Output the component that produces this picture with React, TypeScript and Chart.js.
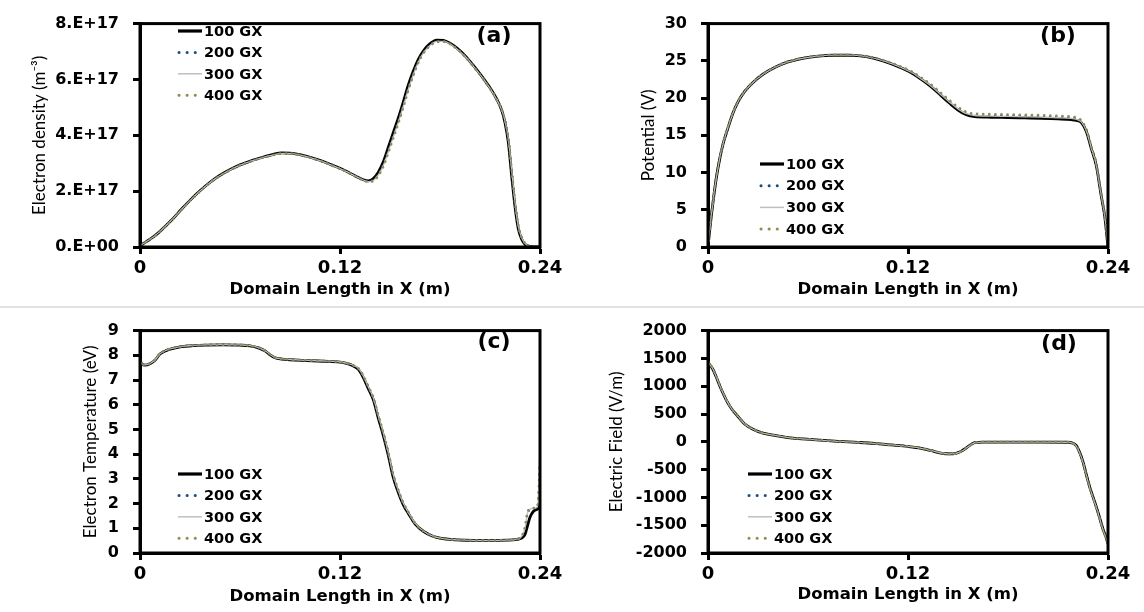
import React, { useEffect, useRef } from 'react';
import { Chart, registerables } from 'chart.js';

Chart.register(...registerables);

// ---------- shared labels ----------
const seriesNames = ['100 GX', '200 GX', '300 GX', '400 GX'];
const xTickLabels = ['0', '0.12', '0.24'];
const xAxisTitle = 'Domain Length in X (m)';

// ---------- (a) electron density, units of 1e17 m^-3 ----------
const densityX = [0, 0.004, 0.008, 0.012, 0.016, 0.02, 0.025, 0.03, 0.035, 0.04, 0.045, 0.05, 0.055, 0.06, 0.065, 0.07, 0.075, 0.08, 0.085, 0.09, 0.095, 0.1, 0.105, 0.11, 0.115, 0.12, 0.125, 0.13, 0.134, 0.137, 0.14, 0.143, 0.146, 0.149, 0.152, 0.155, 0.158, 0.161, 0.164, 0.167, 0.17, 0.174, 0.178, 0.182, 0.186, 0.19, 0.195, 0.2, 0.205, 0.21, 0.214, 0.217, 0.219, 0.221, 0.223, 0.225, 0.227, 0.229, 0.231, 0.233, 0.236, 0.24];
const density100 = [0.05, 0.2, 0.36, 0.56, 0.79, 1.03, 1.36, 1.67, 1.96, 2.22, 2.45, 2.64, 2.8, 2.94, 3.05, 3.15, 3.24, 3.32, 3.37, 3.36, 3.32, 3.25, 3.16, 3.06, 2.94, 2.82, 2.68, 2.52, 2.41, 2.37, 2.45, 2.68, 3.05, 3.57, 4.1, 4.62, 5.2, 5.8, 6.3, 6.72, 7.02, 7.28, 7.41, 7.4, 7.3, 7.13, 6.85, 6.5, 6.12, 5.7, 5.3, 4.9, 4.45, 3.75, 2.55, 1.45, 0.65, 0.28, 0.1, 0.03, 0, 0];
const density200 = [0.05, 0.2, 0.36, 0.56, 0.79, 1.03, 1.35, 1.66, 1.95, 2.21, 2.44, 2.63, 2.79, 2.93, 3.04, 3.14, 3.23, 3.3, 3.35, 3.35, 3.31, 3.24, 3.15, 3.05, 2.93, 2.81, 2.67, 2.51, 2.4, 2.35, 2.4, 2.6, 2.95, 3.45, 3.98, 4.5, 5.08, 5.68, 6.2, 6.64, 6.96, 7.23, 7.37, 7.37, 7.28, 7.11, 6.83, 6.48, 6.1, 5.68, 5.28, 4.9, 4.5, 3.85, 2.7, 1.55, 0.72, 0.32, 0.12, 0.04, 0, 0];
const density300 = [0.05, 0.2, 0.36, 0.56, 0.79, 1.03, 1.35, 1.66, 1.95, 2.21, 2.44, 2.63, 2.79, 2.93, 3.04, 3.14, 3.23, 3.3, 3.35, 3.35, 3.31, 3.24, 3.15, 3.05, 2.93, 2.81, 2.67, 2.51, 2.4, 2.34, 2.38, 2.58, 2.92, 3.42, 3.95, 4.47, 5.05, 5.65, 6.18, 6.62, 6.95, 7.22, 7.36, 7.36, 7.28, 7.1, 6.83, 6.48, 6.1, 5.68, 5.28, 4.91, 4.52, 3.88, 2.75, 1.6, 0.75, 0.33, 0.13, 0.04, 0, 0];
const density400 = [0.05, 0.2, 0.35, 0.55, 0.78, 1.02, 1.34, 1.65, 1.94, 2.2, 2.43, 2.62, 2.78, 2.92, 3.03, 3.13, 3.22, 3.29, 3.34, 3.34, 3.3, 3.23, 3.14, 3.04, 2.92, 2.8, 2.66, 2.5, 2.39, 2.33, 2.36, 2.55, 2.88, 3.38, 3.9, 4.42, 5.0, 5.6, 6.14, 6.6, 6.93, 7.2, 7.34, 7.35, 7.27, 7.1, 6.82, 6.47, 6.09, 5.67, 5.28, 4.92, 4.55, 3.92, 2.8, 1.65, 0.78, 0.35, 0.14, 0.05, 0.01, 0];
const densityTickLabels = ['0.E+00', '2.E+17', '4.E+17', '6.E+17', '8.E+17'];

// ---------- (b) potential, V ----------
const potentialX = [0, 0.001, 0.002, 0.003, 0.005, 0.007, 0.009, 0.012, 0.015, 0.018, 0.022, 0.027, 0.033, 0.04, 0.048, 0.056, 0.065, 0.075, 0.085, 0.095, 0.105, 0.115, 0.122, 0.128, 0.134, 0.14, 0.145, 0.15, 0.155, 0.16, 0.17, 0.18, 0.19, 0.2, 0.21, 0.218, 0.221, 0.224, 0.227, 0.23, 0.233, 0.236, 0.238, 0.24];
const potential100 = [0, 2.2, 4.2, 6.0, 9.3, 11.8, 13.8, 16.0, 18.0, 19.5, 20.9, 22.1, 23.2, 24.1, 24.85, 25.3, 25.6, 25.75, 25.75, 25.55, 25.0, 24.15, 23.4, 22.5, 21.5, 20.3, 19.3, 18.4, 17.75, 17.5, 17.42, 17.38, 17.33, 17.28, 17.2, 17.1, 17.0, 16.7, 15.5, 13.2, 10.9, 6.8, 4.2, 0];
const potential200 = [0, 2.25, 4.25, 6.05, 9.35, 11.85, 13.85, 16.05, 18.0, 19.5, 20.9, 22.1, 23.2, 24.1, 24.87, 25.32, 25.62, 25.77, 25.77, 25.58, 25.05, 24.22, 23.5, 22.62, 21.65, 20.5, 19.52, 18.62, 17.98, 17.75, 17.68, 17.63, 17.58, 17.53, 17.45, 17.35, 17.25, 16.9, 15.7, 13.4, 11.1, 7.0, 4.4, 0];
const potential300 = [0, 2.25, 4.25, 6.05, 9.35, 11.85, 13.85, 16.05, 18.0, 19.5, 20.9, 22.1, 23.2, 24.1, 24.86, 25.31, 25.61, 25.76, 25.76, 25.57, 25.03, 24.2, 23.46, 22.58, 21.6, 20.42, 19.45, 18.55, 17.9, 17.66, 17.58, 17.53, 17.48, 17.43, 17.36, 17.26, 17.15, 16.8, 15.6, 13.3, 11.0, 6.9, 4.3, 0];
const potential400 = [0, 2.3, 4.3, 6.1, 9.4, 11.9, 13.9, 16.1, 18.05, 19.55, 20.95, 22.15, 23.25, 24.15, 24.9, 25.35, 25.65, 25.8, 25.8, 25.62, 25.1, 24.3, 23.6, 22.75, 21.8, 20.65, 19.7, 18.8, 18.15, 17.9, 17.85, 17.8, 17.75, 17.7, 17.62, 17.52, 17.4, 17.0, 15.8, 13.5, 11.2, 7.1, 4.5, 0];
const potentialTickLabels = ['0', '5', '10', '15', '20', '25', '30'];

// ---------- (c) electron temperature, eV ----------
const tempX = [0, 0.001, 0.003, 0.006, 0.009, 0.012, 0.016, 0.02, 0.025, 0.032, 0.04, 0.05, 0.06, 0.066, 0.071, 0.075, 0.078, 0.081, 0.085, 0.09, 0.1, 0.11, 0.12, 0.125, 0.128, 0.131, 0.134, 0.137, 0.14, 0.143, 0.146, 0.149, 0.152, 0.155, 0.158, 0.161, 0.165, 0.17, 0.175, 0.18, 0.19, 0.2, 0.21, 0.22, 0.226, 0.229, 0.231, 0.2325, 0.234, 0.236, 0.238, 0.239, 0.2395, 0.24];
const temp100 = [7.8, 7.65, 7.6, 7.66, 7.8, 8.05, 8.2, 8.28, 8.35, 8.39, 8.41, 8.42, 8.41, 8.38, 8.3, 8.18, 8.02, 7.9, 7.85, 7.82, 7.79, 7.76, 7.72, 7.65, 7.57, 7.43, 7.1, 6.65, 6.2, 5.45, 4.75, 3.95, 3.05, 2.45, 1.95, 1.6, 1.18, 0.88, 0.7, 0.6, 0.53, 0.51, 0.51, 0.52, 0.55, 0.6, 0.75, 1.1, 1.45, 1.68, 1.76, 1.8, 1.85, 2.0];
const temp200 = [7.81, 7.66, 7.61, 7.67, 7.81, 8.06, 8.21, 8.29, 8.36, 8.4, 8.42, 8.43, 8.42, 8.39, 8.31, 8.19, 8.04, 7.91, 7.86, 7.83, 7.8, 7.77, 7.73, 7.66, 7.58, 7.46, 7.14, 6.7, 6.25, 5.52, 4.82, 4.02, 3.12, 2.5, 1.99, 1.63, 1.2, 0.89, 0.7, 0.6, 0.53, 0.51, 0.51, 0.52, 0.56, 0.66, 1.0, 1.6, 1.76, 1.8, 1.83, 2.1, 2.8, 3.6];
const temp300 = [7.81, 7.66, 7.61, 7.67, 7.81, 8.06, 8.21, 8.29, 8.36, 8.4, 8.42, 8.43, 8.42, 8.39, 8.31, 8.19, 8.04, 7.91, 7.86, 7.83, 7.8, 7.77, 7.73, 7.66, 7.59, 7.47, 7.16, 6.72, 6.27, 5.55, 4.85, 4.05, 3.15, 2.52, 2.01, 1.64, 1.21, 0.89, 0.7, 0.6, 0.53, 0.51, 0.51, 0.52, 0.56, 0.67, 1.02, 1.62, 1.77, 1.81, 1.84, 2.3, 3.3, 4.5];
const temp400 = [7.82, 7.67, 7.62, 7.68, 7.82, 8.07, 8.22, 8.3, 8.36, 8.4, 8.42, 8.43, 8.42, 8.39, 8.32, 8.2, 8.05, 7.92, 7.86, 7.83, 7.8, 7.77, 7.73, 7.67, 7.6, 7.48, 7.18, 6.75, 6.3, 5.58, 4.88, 4.08, 3.18, 2.55, 2.03, 1.66, 1.22, 0.9, 0.71, 0.61, 0.53, 0.51, 0.51, 0.52, 0.56, 0.68, 1.05, 1.65, 1.78, 1.82, 1.85, 2.2, 3.0, 3.8];
const tempTickLabels = ['0', '1', '2', '3', '4', '5', '6', '7', '8', '9'];

// ---------- (d) electric field, V/m ----------
const fieldX = [0, 0.001, 0.003, 0.005, 0.008, 0.011, 0.014, 0.018, 0.022, 0.027, 0.033, 0.04, 0.048, 0.057, 0.067, 0.078, 0.09, 0.1, 0.11, 0.12, 0.128, 0.134, 0.139, 0.143, 0.147, 0.151, 0.154, 0.157, 0.16, 0.165, 0.18, 0.2, 0.215, 0.219, 0.221, 0.223, 0.225, 0.227, 0.229, 0.231, 0.233, 0.235, 0.237, 0.239, 0.24];
const field100 = [1420, 1390, 1300, 1160, 940, 750, 600, 455, 320, 225, 155, 115, 75, 52, 30, 8, -11, -30, -57, -85, -118, -160, -198, -215, -217, -183, -130, -65, -15, -5, -5, -5, -8, -25, -70, -190, -360, -590, -810, -990, -1170, -1370, -1570, -1730, -1830];
const field200 = [1430, 1395, 1305, 1165, 945, 755, 602, 457, 322, 226, 156, 116, 76, 52, 30, 8, -10, -30, -57, -85, -117, -159, -197, -215, -218, -185, -132, -68, -16, -5, -5, -5, -8, -26, -74, -195, -368, -598, -818, -998, -1178, -1378, -1580, -1740, -1840];
const field300 = [1430, 1394, 1304, 1164, 944, 754, 602, 457, 322, 226, 156, 116, 76, 52, 30, 8, -10, -30, -57, -85, -117, -159, -197, -215, -218, -185, -133, -69, -17, -6, -5, -5, -8, -27, -76, -197, -370, -600, -820, -1000, -1180, -1380, -1582, -1742, -1842];
const field400 = [1440, 1400, 1310, 1170, 950, 760, 605, 460, 325, 228, 158, 117, 77, 53, 31, 9, -10, -29, -56, -84, -116, -158, -196, -214, -218, -186, -135, -70, -18, -6, -6, -6, -9, -28, -78, -200, -375, -605, -825, -1005, -1185, -1385, -1590, -1750, -1850];
const fieldTickLabels = ['-2000', '-1500', '-1000', '-500', '0', '500', '1000', '1500', '2000'];

// ---------- styles ----------
const seriesStyles = [
  { color: '#000000', width: 2.8, legendWidth: 3.2, dash: [] as number[], cap: 'butt' as CanvasLineCap },
  { color: '#1F4E79', width: 2.5, legendWidth: 3, dash: [0.1, 6], cap: 'round' as CanvasLineCap },
  { color: '#BFBFBF', width: 1.3, legendWidth: 1.5, dash: [] as number[], cap: 'butt' as CanvasLineCap },
  { color: '#948A54', width: 2.5, legendWidth: 3, dash: [0.1, 6], cap: 'round' as CanvasLineCap },
];

const TICK_FONT_Y = { family: '"DejaVu Sans", sans-serif', size: 16, weight: 'bold' as const };
const TICK_FONT_X = { family: '"DejaVu Sans", sans-serif', size: 18, weight: 'bold' as const };
const X_TITLE_FONT = { family: '"DejaVu Sans", sans-serif', size: 16.5, weight: 'bold' as const, lineHeight: 1.2 };
const Y_TITLE_FONT = { family: 'Lato, "Open Sans", sans-serif', size: 17, weight: 'normal' as const, lineHeight: 1.2 };

type PanelCfg = {
  key: string;
  box: { left: number; top: number; w: number; h: number };
  area: { left: number; top: number; right: number; bottom: number };
  yTitleX: number;
  xTitleY: number;
  legend: { x: number; y: number; dy: number };
  tag: { x: number; y: number; text: string };
  yTitle: string;
  yMin: number;
  yMax: number;
  yStep: number;
  yLabels: string[];
  xs: number[];
  series: number[][];
};

const panels: PanelCfg[] = [
  {
    key: 'a',
    box: { left: 0, top: 0, w: 572, h: 305 },
    area: { left: 140, top: 15, right: 540, bottom: 247 },
    yTitleX: 40, xTitleY: 290,
    legend: { x: 178, y: 31, dy: 21.4 },
    tag: { x: 494, y: 36, text: '(a)' },
    yTitle: 'Electron density (m\u207B\u00B3)',
    yMin: 0, yMax: 8, yStep: 2, yLabels: densityTickLabels,
    xs: densityX, series: [density100, density200, density300, density400],
  },
  {
    key: 'b',
    box: { left: 572, top: 0, w: 572, h: 305 },
    area: { left: 136, top: 14, right: 536, bottom: 247 },
    yTitleX: 77, xTitleY: 290,
    legend: { x: 188, y: 164, dy: 21.7 },
    tag: { x: 486, y: 36, text: '(b)' },
    yTitle: 'Potential (V)',
    yMin: 0, yMax: 30, yStep: 5, yLabels: potentialTickLabels,
    xs: potentialX, series: [potential100, potential200, potential300, potential400],
  },
  {
    key: 'c',
    box: { left: 0, top: 307, w: 572, h: 305 },
    area: { left: 140, top: 14, right: 540, bottom: 246 },
    yTitleX: 91, xTitleY: 290,
    legend: { x: 178, y: 167, dy: 21.4 },
    tag: { x: 494, y: 35, text: '(c)' },
    yTitle: 'Electron Temperature (eV)',
    yMin: 0, yMax: 9, yStep: 1, yLabels: tempTickLabels,
    xs: tempX, series: [temp100, temp200, temp300, temp400],
  },
  {
    key: 'd',
    box: { left: 572, top: 307, w: 572, h: 305 },
    area: { left: 136, top: 14, right: 536, bottom: 246 },
    yTitleX: 45, xTitleY: 288,
    legend: { x: 176, y: 167, dy: 21.4 },
    tag: { x: 487, y: 37, text: '(d)' },
    yTitle: 'Electric Field (V/m)',
    yMin: -2000, yMax: 2000, yStep: 500, yLabels: fieldTickLabels,
    xs: fieldX, series: [field100, field200, field300, field400],
  },
];

function Panel({ cfg }: { cfg: PanelCfg }) {
  const ref = useRef<HTMLCanvasElement>(null);

  useEffect(() => {
    const canvas = ref.current!;
    const yHalf = (Y_TITLE_FONT.size * Y_TITLE_FONT.lineHeight) / 2;
    const xHalf = (X_TITLE_FONT.size * X_TITLE_FONT.lineHeight) / 2;
    const padL = cfg.yTitleX - yHalf;
    const yWidth = cfg.area.left - padL;
    const xScaleBottom = cfg.xTitleY + xHalf;
    const xHeight = xScaleBottom - cfg.area.bottom;
    const padB = cfg.box.h - xScaleBottom;
    const padR = cfg.box.w - cfg.area.right;

    const decor = {
      id: 'decor_' + cfg.key,
      afterDatasetsDraw(chart: any) {
        const { ctx, chartArea } = chart;
        ctx.save();
        ctx.strokeStyle = '#000';
        ctx.lineWidth = 3;
        ctx.setLineDash([]);
        ctx.strokeRect(chartArea.left, chartArea.top, chartArea.right - chartArea.left, chartArea.bottom - chartArea.top);
        ctx.restore();
      },
      afterDraw(chart: any) {
        const ctx = chart.ctx as CanvasRenderingContext2D;
        ctx.save();
        seriesNames.forEach((name, i) => {
          const st = seriesStyles[i];
          const y = cfg.legend.y + i * cfg.legend.dy;
          const x0 = cfg.legend.x;
          ctx.beginPath();
          ctx.strokeStyle = st.color;
          ctx.lineWidth = st.legendWidth;
          ctx.setLineDash(st.dash.length ? [0.1, 8] : []);
          ctx.lineCap = st.cap;
          if (st.dash.length) {
            ctx.moveTo(x0 + 1, y);
            ctx.lineTo(x0 + 19, y);
          } else {
            ctx.moveTo(x0, y);
            ctx.lineTo(x0 + 24, y);
          }
          ctx.stroke();
          ctx.setLineDash([]);
          ctx.fillStyle = '#000';
          ctx.font = 'bold 14.5px "DejaVu Sans", sans-serif';
          ctx.textBaseline = 'middle';
          ctx.textAlign = 'left';
          ctx.fillText(name, x0 + 26, y + 1);
        });
        ctx.fillStyle = '#000';
        ctx.font = 'bold 22px "DejaVu Sans", sans-serif';
        ctx.textAlign = 'center';
        ctx.textBaseline = 'middle';
        ctx.fillText(cfg.tag.text, cfg.tag.x, cfg.tag.y);
        ctx.restore();
      },
    };

    const datasets = cfg.series.map((vals, i) => {
      const st = seriesStyles[i];
      return {
        label: seriesNames[i],
        data: cfg.xs.map((x, j) => ({ x, y: vals[j] })),
        borderColor: st.color,
        backgroundColor: st.color,
        borderWidth: st.width,
        borderDash: st.dash,
        borderCapStyle: st.cap,
        pointRadius: 0,
        fill: false,
        cubicInterpolationMode: 'monotone' as const,
        order: 4 - i,
      };
    });

    const chart = new Chart(canvas, {
      type: 'line',
      data: { datasets },
      plugins: [decor],
      options: {
        animation: false,
        responsive: false,
        maintainAspectRatio: false,
        devicePixelRatio: 1,
        layout: { padding: { left: padL, top: cfg.area.top, right: padR, bottom: padB } },
        plugins: { legend: { display: false }, tooltip: { enabled: false }, title: { display: false } },
        scales: {
          x: {
            type: 'linear',
            min: 0,
            max: 0.24,
            afterFit: (scale: any) => { scale.height = xHeight; },
            ticks: {
              stepSize: 0.12,
              autoSkip: false,
              maxRotation: 0,
              color: '#000',
              font: TICK_FONT_X,
              padding: 4,
              callback: (_v: any, idx: number) => xTickLabels[idx],
            },
            grid: { display: true, drawOnChartArea: false, drawTicks: true, tickLength: 7, tickWidth: 3, color: '#000' },
            border: { display: true, width: 3, color: '#000' },
            title: { display: true, text: xAxisTitle, color: '#000', font: X_TITLE_FONT, padding: 0 },
          },
          y: {
            type: 'linear',
            min: cfg.yMin,
            max: cfg.yMax,
            afterFit: (scale: any) => { scale.width = yWidth; },
            ticks: {
              stepSize: cfg.yStep,
              autoSkip: false,
              color: '#000',
              font: TICK_FONT_Y,
              padding: 14,
              callback: (_v: any, idx: number) => cfg.yLabels[idx],
            },
            grid: { display: true, drawOnChartArea: false, drawTicks: true, tickLength: 7, tickWidth: 3, color: '#000' },
            border: { display: true, width: 3, color: '#000' },
            title: { display: true, text: cfg.yTitle, color: '#000', font: Y_TITLE_FONT, padding: 0 },
          },
        },
      },
    } as any);

    return () => chart.destroy();
  }, [cfg]);

  return (
    <div style={{ position: 'absolute', left: cfg.box.left, top: cfg.box.top, width: cfg.box.w, height: cfg.box.h }}>
      <canvas ref={ref} width={cfg.box.w} height={cfg.box.h} style={{ display: 'block', width: cfg.box.w, height: cfg.box.h }} />
    </div>
  );
}

export default function App() {
  return (
    <div style={{ position: 'absolute', left: 0, top: 0, width: 1144, height: 612, background: '#fff', overflow: 'hidden' }}>
      <div style={{ position: 'absolute', left: 0, top: 306, width: 1144, height: 2, background: '#e2e2e2' }} />
      {panels.map((p) => (
        <Panel key={p.key} cfg={p} />
      ))}
    </div>
  );
}
